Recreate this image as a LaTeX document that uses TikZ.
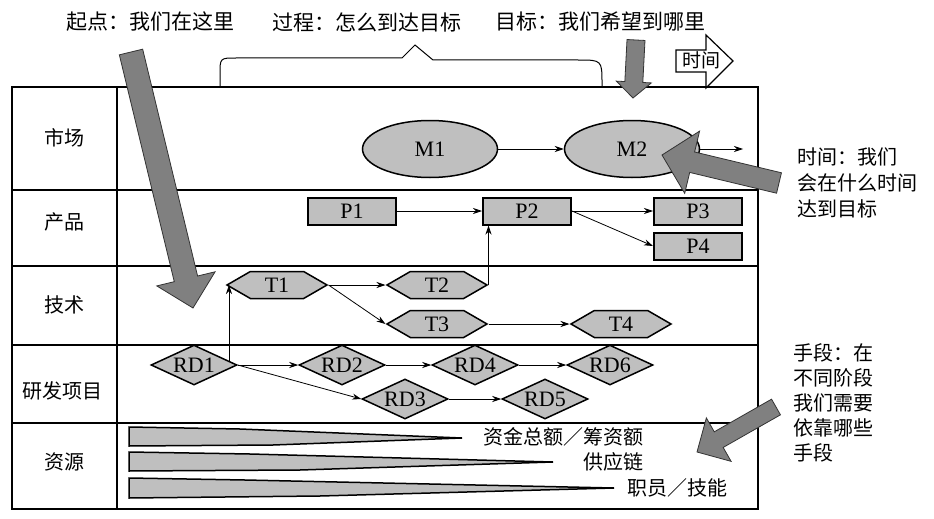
\documentclass[tikz,border=0pt]{standalone}
\usepackage{fontspec}
\setmainfont{Liberation Serif}
\newfontfamily\cjk{Noto Sans CJK SC}
\usetikzlibrary{arrows.meta,shapes.geometric,shapes.symbols,calc}

% fat gray arrow: tail, tip, shaft half width, head half width, head length
\newcommand{\fatarrow}[5]{%
\path ($(#2)!#5!(#1)$) coordinate (fahead);
\filldraw[bigarrow] ($(#1)!#3!90:(#2)$) -- ($(fahead)!#3!90:(#2)$) -- ($(fahead)!#4!90:(#2)$) -- (#2)
  -- ($(fahead)!#4!-90:(#2)$) -- ($(fahead)!#3!-90:(#2)$) -- ($(#1)!#3!-90:(#2)$) -- cycle;
}

\begin{document}
\begin{tikzpicture}[x=1pt,y=-1pt,
  >={Stealth[length=9pt,width=6pt]},
  lane/.style={line width=1.1pt},
  goal/.style={ellipse, draw, line width=1.5pt, fill=black!25, minimum width=135pt, minimum height=57pt, font=\fontsize{22}{24}\selectfont},
  prod/.style={rectangle, draw, line width=2pt, fill=black!25, minimum width=88pt, minimum height=27pt, inner sep=0pt, font=\fontsize{22}{24}\selectfont},
  tech/.style={signal, signal to=west and east, signal pointer angle=60, draw, line width=1.5pt, fill=black!25, minimum width=100pt, minimum height=27pt, inner sep=0pt, font=\fontsize{22}{24}\selectfont},
  proj/.style={diamond, aspect=2.2, draw, line width=1.5pt, fill=black!25, minimum width=86pt, minimum height=40pt, inner sep=0pt, font=\fontsize{22}{24}\selectfont},
  link/.style={->, line width=0.8pt},
  wedge/.style={draw, line width=1.5pt, fill=black!25},
  bigarrow/.style={fill=black!50, draw=black!80, line width=0.8pt},
  cjktext/.style={font=\cjk\fontsize{20}{26}\selectfont, inner sep=0pt}]
\useasboundingbox (0,0) rectangle (934,519);

% top labels
\node[cjktext, font=\cjk\fontsize{21}{26}\selectfont] (start) at (150,22) {起点：我们在这里};
\node[cjktext, font=\cjk\fontsize{21}{26}\selectfont] (process) at (367,22) {过程：怎么到达目标};
\node[cjktext, font=\cjk\fontsize{21}{26}\selectfont] (target) at (600,22) {目标：我们希望到哪里};
\draw[line width=1pt] (220,87) -- (220,74) .. controls (220,58) .. (236,58) -- (402,58) -- (415,45)
  -- (433,60) -- (578,60) .. controls (602,60) .. (602,84) -- (602,87);
\draw[line width=1.2pt, fill=white] (676,50) -- (706,50) -- (706,35) -- (733,61) -- (706,88) -- (706,72) -- (676,72) -- cycle;
\node[cjktext, font=\cjk\fontsize{19}{22}\selectfont] (time) at (701,60) {时间};

% table
\draw[lane] (12,87) rectangle (758,509);
\draw[lane] (117,87) -- (117,509);
\foreach \y in {190,266,345,423}
  \draw[lane] (12,\y) -- (758,\y);
\node[cjktext] (market) at (64,138) {市场};
\node[cjktext] (product) at (64,222) {产品};
\node[cjktext] (tech) at (64,305) {技术};
\node[cjktext] (rd) at (62,391) {研发项目};
\node[cjktext] (resource) at (64,462) {资源};

% market
\node[goal] (M1) at (430,149) {M1};
\node[goal] (M2) at (632,149) {M2};
\coordinate (Mout) at (743,149);
\draw[link] (M1) -- (M2);
\draw[link] (M2) -- (Mout);

% products
\node[prod] (P1) at (352,211) {P1};
\node[prod] (P2) at (527,211) {P2};
\node[prod] (P3) at (698,211) {P3};
\node[prod] (P4) at (698,246) {P4};
\draw[link] (P1) -- (P2);
\draw[link] (P2) -- (P3);
\draw[link] (P2.east) -- (P4.west);

% technologies
\node[tech] (T1) at (277,285) {T1};
\node[tech] (T2) at (437,285) {T2};
\node[tech] (T3) at (437,324) {T3};
\node[tech] (T4) at (621,324) {T4};
\draw[link] (T1.east) -- (T2.west);
\draw[link] (T1.east) -- (T3.west);
\draw[link] (T3.east) -- (T4.west);
\draw[link] (T2.east) -- (T2.east |- P2.south);

% R&D projects
\node[proj] (RD1) at (194,365) {RD1};
\node[proj] (RD2) at (342,365) {RD2};
\node[proj] (RD4) at (475,365) {RD4};
\node[proj] (RD6) at (610,365) {RD6};
\node[proj] (RD3) at (405,399) {RD3};
\node[proj] (RD5) at (545,399) {RD5};
\draw[link] (RD1) -- (RD2);
\draw[link] (RD2) -- (RD4);
\draw[link] (RD4) -- (RD6);
\draw[link] (RD1.east) -- (RD3.west);
\draw[link] (RD3) -- (RD5);
\coordinate (RDup) at ($(RD1.east)!0.2!(RD1.north)$);
\draw[link] (RDup) -- (RDup |- T1.west);

% resources
\draw[wedge] (129,427) -- (240,429) -- (462,438) -- (273,445) -- (129,446) -- cycle;
\draw[wedge] (129,452) -- (250,454) -- (553,462) -- (300,470) -- (129,471) -- cycle;
\draw[wedge] (129,478) -- (245,480) -- (614,488) -- (320,496) -- (129,498) -- cycle;
\node[cjktext, anchor=east] (fund) at (644,437) {资金总额／筹资额};
\node[cjktext, anchor=east] (supply) at (644,462) {供应链};
\node[cjktext, anchor=west] (staff) at (627,488) {职员／技能};

% side notes
\node[cjktext, anchor=north west, align=left] (whennote) at (797,148) {时间：我们\\会在什么时间\\达到目标};
\node[cjktext, anchor=north west, align=left, font=\cjk\fontsize{20}{25}\selectfont] (meansnote) at (793,343) {手段：在\\不同阶段\\我们需要\\依靠哪些\\手段};

% big gray arrows
\coordinate (starttail) at (131,52);
\coordinate (starttip) at (193,308);
\coordinate (goaltail) at (636,40);
\coordinate (goaltip) at (633,98);
\coordinate (whentail) at (779,183);
\coordinate (whentip) at (662,155);
\coordinate (meanstail) at (776,407);
\coordinate (meanstip) at (697,452);
\fatarrow{starttail}{starttip}{12pt}{30pt}{30pt}
\fatarrow{goaltail}{goaltip}{9pt}{17.5pt}{16pt}
\fatarrow{whentail}{whentip}{10.5pt}{32pt}{31pt}
\fatarrow{meanstail}{meanstip}{9pt}{25pt}{25pt}
\end{tikzpicture}
\end{document}
